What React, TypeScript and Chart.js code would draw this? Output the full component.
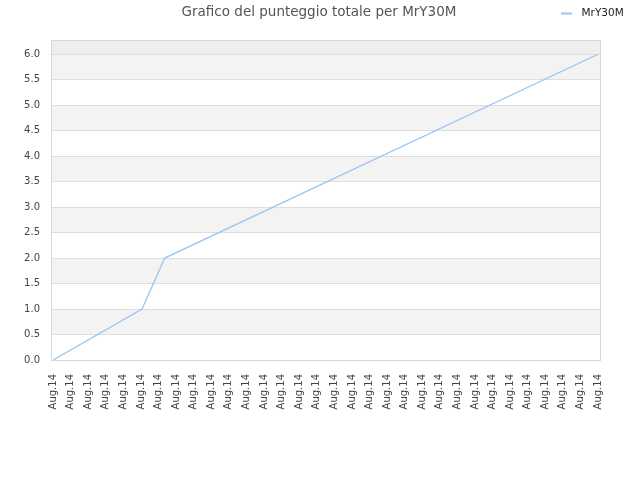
import { useEffect, useRef } from "react"
import { Chart, registerables, type ChartConfiguration, type Plugin } from "chart.js"

Chart.register(...registerables)

const TITLE = "Grafico del punteggio totale per MrY30M"
const SERIES_NAME = "MrY30M"

// one tick label per day slot on the x axis
const dayLabels = Array.from({ length: 32 }, () => "Aug.14")

// total score at the kinks of the line (x in label slots)
const scoreX = [0, 5.06, 6.35, 31]
const scoreY = [0, 1, 2, 6]

const yTicks = [0, 0.5, 1, 1.5, 2, 2.5, 3, 3.5, 4, 4.5, 5, 5.5, 6]

const LINE_COLOR = "#97c5f5"
const FONT = "'DejaVu Sans', sans-serif"

const bandsPlugin: Plugin<"line"> = {
  id: "bands",
  beforeDraw(chart) {
    const { ctx, chartArea } = chart
    const y = chart.scales.y
    ctx.save()
    ctx.fillStyle = "#ffffff"
    ctx.fillRect(chartArea.left, chartArea.top, chartArea.width, chartArea.height)
    // grey every other band: 0.5-1.0, 1.5-2.0, ...
    ctx.fillStyle = "#f3f3f3"
    for (let i = 2; i < yTicks.length; i += 2) {
      const top = y.getPixelForValue(yTicks[i])
      const bottom = y.getPixelForValue(yTicks[i - 1])
      ctx.fillRect(chartArea.left, top, chartArea.width, bottom - top)
    }
    ctx.fillStyle = "#eeeeee"
    const last = y.getPixelForValue(yTicks[yTicks.length - 1])
    ctx.fillRect(chartArea.left, chartArea.top, chartArea.width, last - chartArea.top)
    ctx.restore()
  },
  beforeDatasetsDraw(chart) {
    const { ctx, chartArea } = chart
    ctx.save()
    ctx.strokeStyle = "#d8d8d8"
    ctx.lineWidth = 1
    ctx.strokeRect(chartArea.left + 0.5, chartArea.top + 0.5, chartArea.width - 1, chartArea.height)
    ctx.restore()
  },
  afterDraw(chart) {
    const { ctx } = chart
    ctx.save()
    ctx.textBaseline = "middle"
    ctx.font = `13.5px ${FONT}`
    ctx.fillStyle = "#555555"
    ctx.textAlign = "center"
    ctx.fillText(TITLE, 319, 12)

    ctx.strokeStyle = LINE_COLOR
    ctx.lineWidth = 2
    ctx.beginPath()
    ctx.moveTo(561, 13.5)
    ctx.lineTo(572, 13.5)
    ctx.stroke()
    ctx.font = `10.5px ${FONT}`
    ctx.fillStyle = "#222222"
    ctx.textAlign = "left"
    ctx.fillText(SERIES_NAME, 581.5, 13)
    ctx.restore()
  },
}

export default function App() {
  const canvasRef = useRef<HTMLCanvasElement>(null)

  useEffect(() => {
    document.body.style.margin = "0"
    if (!canvasRef.current) return

    const config: ChartConfiguration<"line"> = {
      type: "line",
      data: {
        datasets: [
          {
            label: SERIES_NAME,
            data: scoreX.map((x, i) => ({ x, y: scoreY[i] })),
            borderColor: LINE_COLOR,
            borderWidth: 1.3,
            pointRadius: 0,
            tension: 0,
            fill: false,
          },
        ],
      },
      options: {
        responsive: false,
        animation: false,
        layout: { padding: { top: 40, right: 39, left: 0, bottom: 0 } },
        plugins: {
          legend: { display: false },
          title: { display: false },
          tooltip: { enabled: false },
        },
        scales: {
          x: {
            type: "linear",
            min: -0.12,
            max: 31.17,
            afterBuildTicks(scale) {
              scale.ticks = dayLabels.map((_, i) => ({ value: i }))
            },
            afterFit(scale) {
              scale.height = 120
            },
            ticks: {
              autoSkip: false,
              minRotation: 90,
              maxRotation: 90,
              padding: 6,
              color: "#444444",
              font: { family: FONT, size: 10 },
              callback: (v) => dayLabels[Number(v)] ?? "",
            },
            grid: { display: false },
            border: { display: false },
          },
          y: {
            min: 0,
            max: 6.28,
            afterBuildTicks(scale) {
              scale.ticks = yTicks.map((value) => ({ value }))
            },
            afterFit(scale) {
              scale.width = 51
            },
            ticks: {
              padding: 11,
              color: "#444444",
              font: { family: FONT, size: 10 },
              callback: (v) => Number(v).toFixed(1),
            },
            grid: { color: "#dedede", drawTicks: false },
            border: { display: false },
          },
        },
      },
      plugins: [bandsPlugin],
    }

    const chart = new Chart(canvasRef.current, config)
    return () => chart.destroy()
  }, [])

  return (
    <div style={{ width: 640, height: 480 }}>
      <canvas ref={canvasRef} width={640} height={480} />
    </div>
  )
}
